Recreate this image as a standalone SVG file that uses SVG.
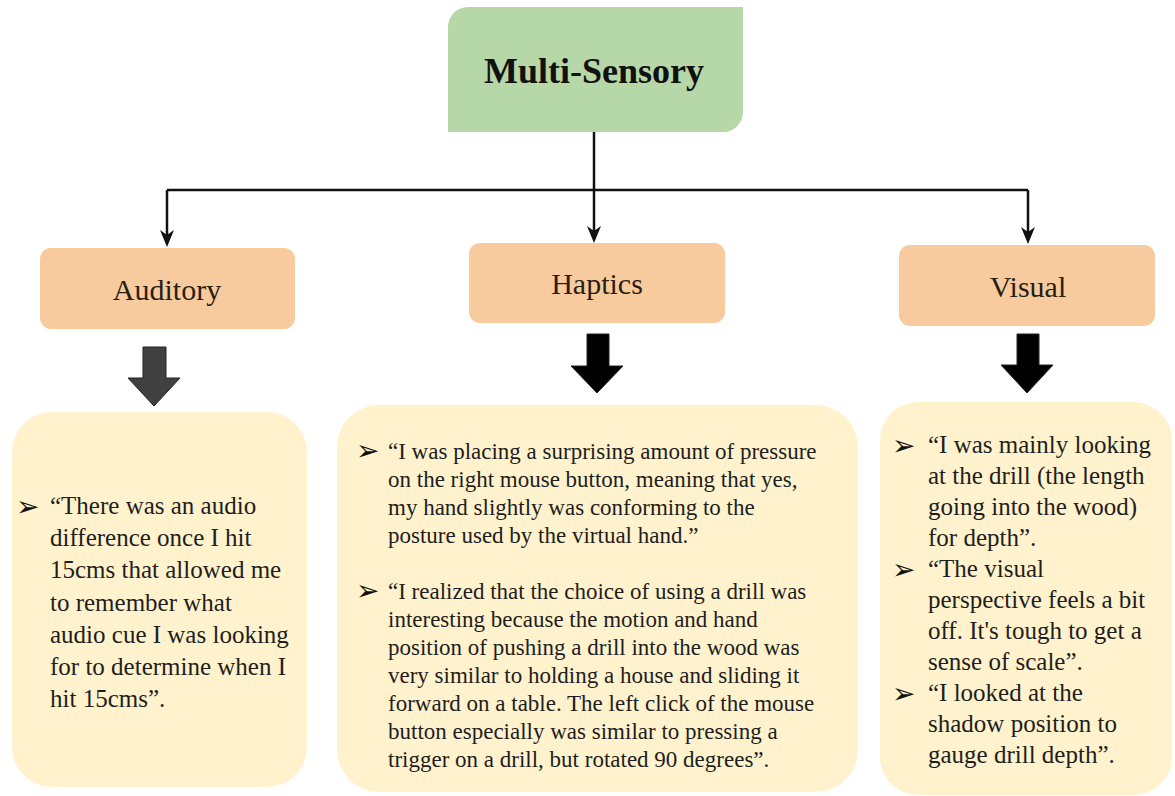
<svg xmlns="http://www.w3.org/2000/svg" width="1175" height="796" viewBox="0 0 1175 796">
  <defs>
    <marker id="tip" viewBox="0 0 17 14" refX="13" refY="7" markerWidth="17" markerHeight="14" markerUnits="userSpaceOnUse" orient="auto">
      <path d="M0,0 L17,7 L0,14 L5,7 Z" fill="#111"/>
    </marker>
    <style>
      .root { fill: #b6d7a8; }
      .cat { fill: #f8cb9f; }
      .quote { fill: #fff2cc; }
      .link { fill: none; stroke: #111; stroke-width: 2.5; }
      .title { font-family: "Liberation Serif", "Times New Roman", serif; font-weight: bold; font-size: 36px; fill: #111; text-anchor: middle; }
      .label { font-family: "Liberation Serif", "Times New Roman", serif; font-size: 30px; fill: #2a1e14; text-anchor: middle; }
      .body { font-family: "Liberation Serif", "Times New Roman", serif; fill: #1e1e1e; }
      .b25 { font-size: 25px; }
      .b23 { font-size: 23px; }
      .bullet { font-family: "DejaVu Sans", sans-serif; font-size: 28px; fill: #111; }
      .big-arrow { stroke: #222; stroke-width: 1; }
    </style>
  </defs>

  <!-- connectors -->
  <g id="connectors">
    <path class="link" d="M594,132 V239" marker-end="url(#tip)"/>
    <path class="link" d="M167,190 H1028"/>
    <path class="link" d="M167,190 V243" marker-end="url(#tip)"/>
    <path class="link" d="M1028,190 V240" marker-end="url(#tip)"/>
    <polygon class="big-arrow" fill="#404040" points="143,347 166,347 166,378 180,378 154,406 128,378 143,378"/>
    <polygon class="big-arrow" fill="#000" points="587,334 609,334 609,366 623,366 597,393 571,366 587,366"/>
    <polygon class="big-arrow" fill="#000" points="1017,334 1039,334 1039,365 1053,365 1027,393 1001,365 1017,365"/>
  </g>

  <!-- root node -->
  <g id="multi-sensory">
    <path class="root" d="M468,7 H743 V112 A20,20 0 0 1 723,132 H448 V27 A20,20 0 0 1 468,7 Z"/>
    <text class="title" x="594" y="83">Multi-Sensory</text>
  </g>

  <!-- category nodes -->
  <g id="auditory">
    <rect class="cat" x="40" y="248" width="255" height="81" rx="11"/>
    <text class="label" x="167" y="300">Auditory</text>
  </g>
  <g id="haptics">
    <rect class="cat" x="469" y="243" width="256" height="80" rx="11"/>
    <text class="label" x="597" y="294">Haptics</text>
  </g>
  <g id="visual">
    <rect class="cat" x="899" y="245" width="256" height="81" rx="11"/>
    <text class="label" x="1028" y="297">Visual</text>
  </g>

  <!-- quote nodes -->
  <g id="auditory-quotes">
    <rect class="quote" x="12" y="412" width="295" height="375" rx="40"/>
    <text class="bullet" x="16" y="516">➢</text>
    <text class="body b25">
      <tspan x="50" y="514">“There was an audio</tspan>
      <tspan x="50" y="546">difference once I hit</tspan>
      <tspan x="50" y="578">15cms that allowed me</tspan>
      <tspan x="50" y="611">to remember what</tspan>
      <tspan x="50" y="643">audio cue I was looking</tspan>
      <tspan x="50" y="675">for to determine when I</tspan>
      <tspan x="50" y="707">hit 15cms”.</tspan>
    </text>
  </g>

  <g id="haptics-quotes">
    <rect class="quote" x="337" y="405" width="521" height="387" rx="42"/>
    <text class="bullet" x="356" y="460">➢</text>
    <text class="body b23">
      <tspan x="388" y="459">“I was placing a surprising amount of pressure</tspan>
      <tspan x="388" y="487">on the right mouse button, meaning that yes,</tspan>
      <tspan x="388" y="515">my hand slightly was conforming to the</tspan>
      <tspan x="388" y="543">posture used by the virtual hand.”</tspan>
    </text>
    <text class="bullet" x="356" y="600">➢</text>
    <text class="body b23">
      <tspan x="388" y="599">“I realized that the choice of using a drill was</tspan>
      <tspan x="388" y="627">interesting because the motion and hand</tspan>
      <tspan x="388" y="655">position of pushing a drill into the wood was</tspan>
      <tspan x="388" y="683">very similar to holding a house and sliding it</tspan>
      <tspan x="388" y="711">forward on a table. The left click of the mouse</tspan>
      <tspan x="388" y="739">button especially was similar to pressing a</tspan>
      <tspan x="388" y="767">trigger on a drill, but rotated 90 degrees”.</tspan>
    </text>
  </g>

  <g id="visual-quotes">
    <rect class="quote" x="880" y="402" width="292" height="393" rx="38"/>
    <text class="bullet" x="892" y="455">➢</text>
    <text class="body b25">
      <tspan x="928" y="453">“I was mainly looking</tspan>
      <tspan x="928" y="484">at the drill (the length</tspan>
      <tspan x="928" y="515">going into the wood)</tspan>
      <tspan x="928" y="546">for depth”.</tspan>
    </text>
    <text class="bullet" x="892" y="579">➢</text>
    <text class="body b25">
      <tspan x="928" y="577">“The visual</tspan>
      <tspan x="928" y="608">perspective feels a bit</tspan>
      <tspan x="928" y="639">off. It's tough to get a</tspan>
      <tspan x="928" y="670">sense of scale”.</tspan>
    </text>
    <text class="bullet" x="892" y="703">➢</text>
    <text class="body b25">
      <tspan x="928" y="701">“I looked at the</tspan>
      <tspan x="928" y="732">shadow position to</tspan>
      <tspan x="928" y="763">gauge drill depth”.</tspan>
    </text>
  </g>
</svg>
